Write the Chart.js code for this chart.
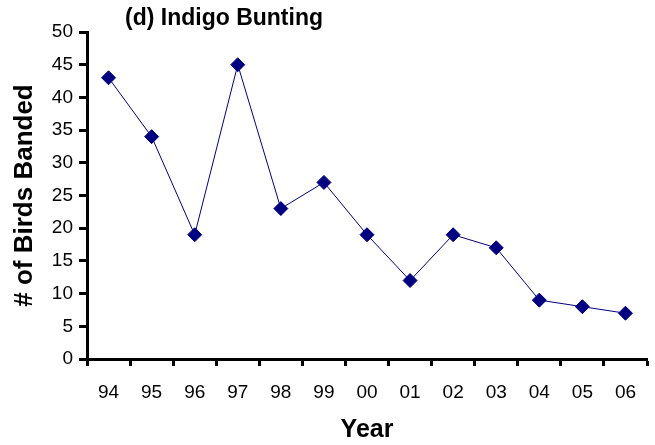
<!DOCTYPE html>
<html>
<head>
<meta charset="utf-8">
<script src="https://cdn.jsdelivr.net/npm/chart.js@4"></script>
<style>
  html, body { margin: 0; padding: 0; background: #fff; }
  #wrap { width: 655px; height: 445px; }
</style>
</head>
<body>
<div id="wrap"><canvas id="birdChart" width="655" height="445"></canvas></div>
<script>
// year labels and birds banded per year
const years = ['94', '95', '96', '97', '98', '99', '00', '01', '02', '03', '04', '05', '06'];
const banded = [43, 34, 19, 45, 23, 27, 19, 12, 19, 17, 9, 8, 7];
const chartTitle = '(d) Indigo Bunting';

const FONT = "'Liberation Sans', Arial, sans-serif";

// title sits off to the left, like the original
const titlePlugin = {
  id: 'leftTitle',
  afterDraw(chart) {
    const ctx = chart.ctx;
    ctx.save();
    ctx.font = 'bold 23px ' + FONT;
    ctx.fillStyle = '#000';
    ctx.textAlign = 'center';
    ctx.textBaseline = 'middle';
    ctx.fillText(chartTitle, 224, 19);
    ctx.restore();
  }
};

new Chart(document.getElementById('birdChart').getContext('2d'), {
  type: 'line',
  data: {
    labels: years,
    datasets: [{
      data: banded,
      borderColor: '#000080',
      backgroundColor: '#000080',
      borderWidth: 1,
      pointStyle: 'rectRot',
      pointRadius: 7,
      pointHoverRadius: 7,
      tension: 0
    }]
  },
  options: {
    responsive: false,
    animation: false,
    layout: { padding: { top: 32, right: 5, left: 0, bottom: 0 } },
    plugins: {
      legend: { display: false },
      tooltip: { enabled: false }
    },
    scales: {
      x: {
        offset: true,
        grid: { display: true, offset: true, drawOnChartArea: false, tickLength: 7, tickWidth: 3, tickColor: '#000' },
        border: { display: true, color: '#000', width: 3 },
        ticks: { color: '#000', font: { family: FONT, size: 19 }, padding: 15, maxRotation: 0 },
        title: { display: true, text: 'Year', color: '#000', font: { family: FONT, size: 25, weight: 'bold' }, padding: 0 },
        afterFit(scale) { scale.height = 86; }
      },
      y: {
        min: 0,
        max: 50,
        grid: { display: true, drawOnChartArea: false, tickLength: 8, tickWidth: 3, tickColor: '#000' },
        border: { display: true, color: '#000', width: 3 },
        ticks: { stepSize: 5, color: '#000', font: { family: FONT, size: 19 }, padding: 6 },
        title: { display: true, text: '# of Birds Banded', color: '#000', font: { family: FONT, size: 26, weight: 'bold' }, padding: { top: 9, bottom: 0 } },
        afterFit(scale) { scale.width = 87; }
      }
    }
  },
  plugins: [titlePlugin]
});
</script>
</body>
</html>
